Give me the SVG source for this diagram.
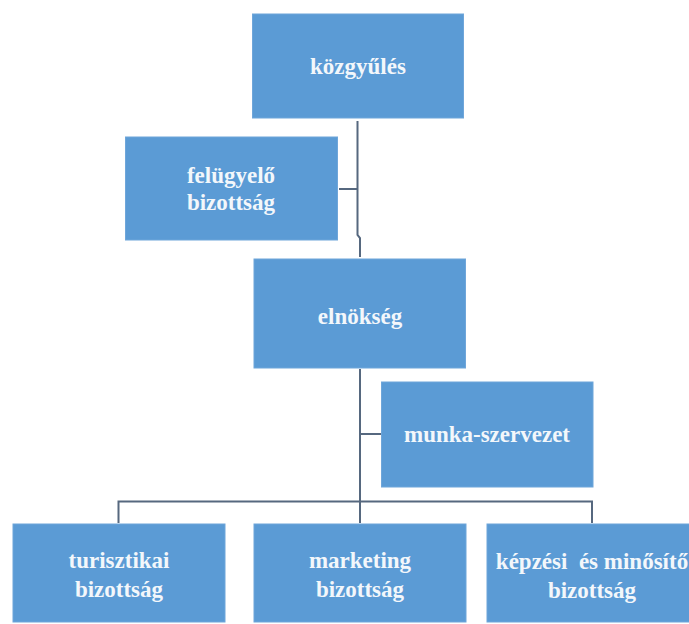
<svg xmlns="http://www.w3.org/2000/svg" width="689" height="624" viewBox="0 0 689 624">
<style>
.box{fill:#5B9BD5;stroke:#6FA6DA;stroke-width:1}
.lbl{font-family:"Liberation Serif","Times New Roman",serif;font-weight:bold;font-size:23px;fill:#F3F7FB;text-anchor:middle}
.con{fill:none;stroke:#56687F;stroke-width:2}
</style>
<rect width="689" height="624" fill="#FFFFFF"/>
<g id="connectors">
<path class="con" d="M357.5 121 V235 L360 238 V257"/>
<path class="con" d="M339 189 H357.5"/>
<path class="con" d="M360 369 V523"/>
<path class="con" d="M360 434 H381"/>
<path class="con" d="M118.5 523 V501.5 H592 V523"/>
</g>
<g id="kozgyules">
<rect class="box" x="252.5" y="14" width="211" height="104"/>
<text class="lbl" x="358" y="74">közgyűlés</text>
</g>
<g id="felugyelo">
<rect class="box" x="125.5" y="137" width="212" height="103"/>
<text class="lbl" x="231" y="183">felügyelő</text>
<text class="lbl" x="231" y="210">bizottság</text>
</g>
<g id="elnokseg">
<rect class="box" x="254" y="259" width="211.5" height="109"/>
<text class="lbl" x="360" y="324">elnökség</text>
</g>
<g id="munkaszervezet">
<rect class="box" x="381.5" y="382" width="211.5" height="105"/>
<text class="lbl" x="487" y="442">munka-szervezet</text>
</g>
<g id="turisztikai">
<rect class="box" x="13" y="524" width="212" height="98"/>
<text class="lbl" x="119" y="568">turisztikai</text>
<text class="lbl" x="119" y="597">bizottság</text>
</g>
<g id="marketing">
<rect class="box" x="254" y="524" width="212" height="98"/>
<text class="lbl" x="360" y="568">marketing</text>
<text class="lbl" x="360" y="597">bizottság</text>
</g>
<g id="kepzesi">
<rect class="box" x="487" y="524" width="212" height="98"/>
<text class="lbl" x="592" y="569" xml:space="preserve">képzési  és minősítő</text>
<text class="lbl" x="592" y="598">bizottság</text>
</g>
</svg>
